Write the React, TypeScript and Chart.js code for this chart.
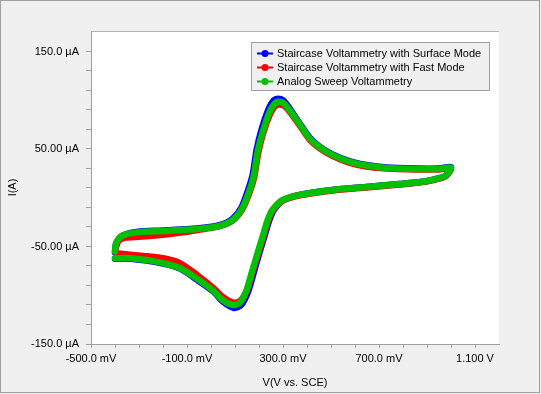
import React, { useEffect, useRef } from "react";
import { Chart, registerables } from "chart.js";

Chart.register(...registerables);

// Series 1: Staircase Voltammetry with Surface Mode (blue) — potential (mV), current (µA)
const blueV = [-400, -395, -370, -310, -200, -60, 35, 88, 127, 156, 174, 190, 211, 240, 262, 279, 300, 325, 367, 410, 452, 506, 576, 647, 730, 855, 950, 1000,
  980, 950, 896, 784, 647, 506, 369, 300, 262, 243, 222, 201, 180, 155, 126, 96, 52, 9, -59, -130, -200, -267, -338, -400];
const blueI = [-56, -47, -39, -35, -33.5, -31.5, -28, -22, -10, 9, 24, 49, 70, 91, 100, 101.5, 100, 92.5, 77, 62, 52.5, 44.5, 37.5, 33.5, 31, 30, 30, 31.5,
  23, 20, 17, 14, 11, 8, 3, -2.5, -12.5, -23, -40, -57, -75, -96, -110, -113, -107, -96, -84, -72.5, -67.5, -64.5, -62.5, -62.5];

// Series 2: Staircase Voltammetry with Fast Mode (red)
const redV = [-395, -385, -360, -300, -200, -100, -30, 35, 90, 130, 160, 180, 196, 217, 246, 267, 283, 304, 329, 370, 410, 452, 506, 576, 647, 730, 855, 950, 1000,
  980, 950, 896, 784, 647, 506, 369, 298, 258, 238, 217, 196, 175, 150, 121, 92, 50, 7, -59, -130, -200, -267, -338, -395];
const redI = [-50, -44, -41, -40, -38, -35, -32, -29, -23.5, -12, 5, 21, 45, 66, 86, 94, 95.5, 94.5, 88, 74, 60, 51, 43, 36, 32, 30, 29, 29, 30,
  22.5, 19.5, 16.5, 13.5, 10.5, 7.5, 2.5, -3, -13, -24, -41, -58, -75, -95, -106, -107.5, -102, -92, -79, -67, -62, -60, -58.5, -57];

// Series 3: Analog Sweep Voltammetry (green)
const greenV = [-400, -395, -370, -310, -200, -60, 35, 90, 130, 160, 178, 194, 215, 244, 265, 281, 302, 327, 369, 410, 452, 506, 576, 647, 730, 855, 950, 1000,
  980, 950, 896, 784, 647, 506, 369, 298, 256, 236, 215, 194, 173, 148, 119, 90, 49, 7, -59, -130, -200, -267, -338, -400];
const greenI = [-55, -46, -39, -35.5, -34, -32, -29, -23, -11, 7, 22, 47, 67, 88, 96.5, 98.5, 97, 90, 75.5, 61, 52, 44, 37, 33, 30.5, 29.5, 29.5, 31,
  23, 20, 17, 14, 11, 8, 3, -2.5, -12.5, -23, -40, -57, -74, -95, -108, -110, -105, -95, -83, -72, -67, -64, -62, -62];

const seriesNames = [
  "Staircase Voltammetry with Surface Mode",
  "Staircase Voltammetry with Fast Mode",
  "Analog Sweep Voltammetry",
];
const seriesColors = ["#0000ff", "#ff0000", "#00c000"];

const xTickValues = [-500, -400, -300, -200, -100, 0, 100, 200, 300, 400, 500, 600, 700, 800, 900, 1000, 1100];
const xTickLabels: Record<number, string> = { [-500]: "-500.0 mV", [-100]: "-100.0 mV", 300: "300.0 mV", 700: "700.0 mV", 1100: "1.100 V" };
const yTickValues = [-150, -130, -110, -90, -70, -50, -30, -10, 10, 30, 50, 70, 90, 110, 130, 150];
const yTickLabels: Record<number, string> = { [-150]: "-150.0 µA", [-50]: "-50.00 µA", 50: "50.00 µA", 150: "150.0 µA" };

const FONT = "'Liberation Sans', Arial, sans-serif";

const toPoints = (xs: number[], ys: number[]) => xs.map((x, i) => ({ x, y: ys[i] }));

const bgPlugin = {
  id: "bgPlugin",
  beforeDraw(chart: any) {
    const { ctx, width, height, chartArea } = chart;
    ctx.save();
    ctx.fillStyle = "#f0f0f0";
    ctx.fillRect(0, 0, width, height);
    ctx.strokeStyle = "#a0a0a0";
    ctx.lineWidth = 1;
    ctx.strokeRect(0.5, 0.5, width - 2, height - 2);
    ctx.fillStyle = "#ffffff";
    ctx.fillRect(chartArea.left, chartArea.top, chartArea.right - chartArea.left, chartArea.bottom - chartArea.top);
    ctx.strokeStyle = "#b4b4b4";
    ctx.beginPath();
    ctx.moveTo(chartArea.left, chartArea.top + 0.5);
    ctx.lineTo(chartArea.right, chartArea.top + 0.5);
    ctx.stroke();
    ctx.restore();
  },
};

const legendPlugin = {
  id: "customLegend",
  afterDraw(chart: any) {
    const { ctx } = chart;
    const x0 = 251, y0 = 42, w = 238, h = 48;
    ctx.save();
    ctx.fillStyle = "#f0f0f0";
    ctx.fillRect(x0, y0, w, h);
    ctx.strokeStyle = "#a0a0a0";
    ctx.lineWidth = 1;
    ctx.strokeRect(x0 + 0.5, y0 + 0.5, w, h);
    ctx.font = `11px ${FONT}`;
    ctx.textBaseline = "middle";
    ctx.textAlign = "left";
    seriesNames.forEach((name, i) => {
      const cy = 53.5 + i * 14;
      ctx.strokeStyle = seriesColors[i];
      ctx.lineWidth = 2;
      ctx.beginPath();
      ctx.moveTo(257, cy);
      ctx.lineTo(273, cy);
      ctx.stroke();
      ctx.fillStyle = seriesColors[i];
      ctx.beginPath();
      ctx.arc(265, cy, 3.5, 0, Math.PI * 2);
      ctx.fill();
      ctx.fillStyle = "#000000";
      ctx.fillText(name, 277, cy + 0.5);
    });
    ctx.restore();
  },
};

export default function App() {
  const ref = useRef<HTMLCanvasElement | null>(null);

  useEffect(() => {
    if (!ref.current) return;
    const mk = (i: number, xs: number[], ys: number[], order: number) => ({
      label: seriesNames[i],
      data: toPoints(xs, ys),
      showLine: true,
      borderColor: seriesColors[i],
      backgroundColor: seriesColors[i],
      borderWidth: 6.5,
      borderCapStyle: "round",
      borderJoinStyle: "round",
      pointRadius: 0,
      tension: 0.25,
      order,
    });
    const chart = new Chart(ref.current, {
      type: "scatter",
      data: {
        datasets: [
          mk(0, blueV, blueI, 3),
          mk(1, redV, redI, 2),
          mk(2, greenV, greenI, 1),
        ],
      },
      plugins: [bgPlugin, legendPlugin],
      options: {
        animation: false,
        responsive: false,
        devicePixelRatio: 1,
        layout: { padding: { left: 0, top: 31, right: 42, bottom: 0 } },
        plugins: { legend: { display: false }, tooltip: { enabled: false } },
        scales: {
          x: {
            type: "linear",
            min: -500,
            max: 1200,
            afterBuildTicks: (s: any) => { s.ticks = xTickValues.map((v) => ({ value: v })); },
            afterFit: (s: any) => { s.height = 50; },
            ticks: {
              autoSkip: false,
              maxRotation: 0,
              padding: 4,
              color: "#000000",
              font: { family: FONT, size: 11 },
              callback: (v: any) => xTickLabels[v as number] ?? "",
            },
            grid: { drawOnChartArea: false, drawTicks: true, tickLength: 4, color: "#a0a0a0" },
            border: { display: true, color: "#a0a0a0" },
            title: { display: true, text: "V(V vs. SCE)", color: "#000000", font: { family: FONT, size: 11 }, padding: { top: 0, bottom: 4 } },
          },
          y: {
            type: "linear",
            min: -150,
            max: 171,
            afterBuildTicks: (s: any) => { s.ticks = yTickValues.map((v) => ({ value: v })); },
            afterFit: (s: any) => { s.width = 91; },
            ticks: {
              autoSkip: false,
              padding: 7,
              color: "#000000",
              font: { family: FONT, size: 11 },
              callback: (v: any) => yTickLabels[v as number] ?? "",
            },
            grid: { drawOnChartArea: false, drawTicks: true, tickLength: 5, color: "#a0a0a0" },
            border: { display: true, color: "#a0a0a0" },
            title: { display: true, text: "I(A)", color: "#000000", font: { family: FONT, size: 11 }, padding: { top: 6, bottom: 0 } },
          },
        },
      } as any,
    });
    return () => chart.destroy();
  }, []);

  return (
    <div style={{ position: "absolute", left: 0, top: 0, width: 541, height: 394 }}>
      <canvas ref={ref} width={541} height={394} style={{ display: "block", width: 541, height: 394 }} />
    </div>
  );
}
